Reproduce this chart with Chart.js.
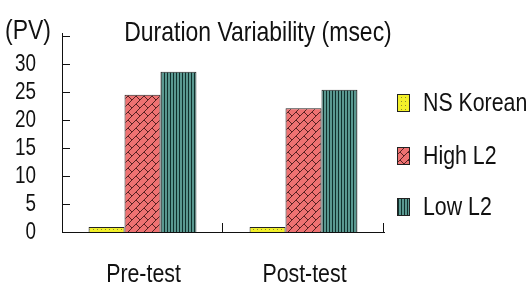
<!DOCTYPE html>
<html>
<head>
<meta charset="utf-8">
<script src="https://cdn.jsdelivr.net/npm/chart.js@4.4.1/dist/chart.umd.min.js"></script>
<style>
  html, body { margin: 0; padding: 0; background: #fff; }
  #wrap { width: 532px; height: 287px; position: relative; }
</style>
</head>
<body>
<div id="wrap"><canvas id="c" width="532" height="287"></canvas></div>
<script>
const categories = ['Pre-test', 'Post-test'];
const seriesNames = ['NS Korean', 'High L2', 'Low L2'];
const nsKorean = [0.9, 0.9];
const highL2 = [24.5, 22.1];
const lowL2 = [28.6, 25.4];
const yTicks = [0, 5, 10, 15, 20, 25, 30, 35];
const yTickLabels = ['0', '5', '10', '15', '20', '25', '30', ''];
const titleText = 'Duration Variability (msec)';
const yUnitText = '(PV)';

const FONT = "'Liberation Sans', Arial, sans-serif";
const NARROW = 0.82;

function narrowText(ctx, text, x, y, size, align) {
  ctx.save();
  ctx.translate(x, y);
  ctx.scale(NARROW, 1);
  ctx.font = size + 'px ' + FONT;
  ctx.textAlign = align;
  ctx.textBaseline = 'middle';
  ctx.fillStyle = '#111';
  ctx.fillText(text, 0, 0);
  ctx.restore();
}

function makePattern(kind) {
  const c = document.createElement('canvas');
  const ctx = c.getContext('2d');
  if (kind === 'yellow') {
    c.width = 4; c.height = 4;
    ctx.fillStyle = '#f2f02a'; ctx.fillRect(0, 0, 4, 4);
    ctx.fillStyle = '#8a8a30'; ctx.fillRect(1, 1, 1, 1);
  } else if (kind === 'red') {
    c.width = 8; c.height = 8;
    ctx.fillStyle = '#ee7272'; ctx.fillRect(0, 0, 8, 8);
    ctx.strokeStyle = 'rgba(60,20,20,0.85)'; ctx.lineWidth = 1;
    ctx.beginPath();
    ctx.moveTo(0, 8); ctx.lineTo(8, 0);
    ctx.moveTo(-4, 4); ctx.lineTo(4, -4);
    ctx.moveTo(4, 12); ctx.lineTo(12, 4);
    ctx.moveTo(0, 0); ctx.lineTo(4, 4);
    ctx.moveTo(4, 8); ctx.lineTo(8, 12);
    ctx.stroke();
  } else {
    c.width = 3; c.height = 3;
    ctx.fillStyle = '#5a9890'; ctx.fillRect(0, 0, 3, 3);
    ctx.fillStyle = '#10302c'; ctx.fillRect(2, 0, 1, 3);
  }
  return ctx.createPattern(c, 'repeat');
}

const fills = [makePattern('yellow'), makePattern('red'), makePattern('teal')];
const seriesValues = [nsKorean, highL2, lowL2];

const decor = {
  id: 'decor',
  afterDraw(chart) {
    const ctx = chart.ctx;
    const xs = chart.scales.x, ys = chart.scales.y;
    const area = chart.chartArea;
    ctx.save();
    ctx.strokeStyle = '#111';
    ctx.lineWidth = 1;
    ctx.beginPath();
    yTicks.forEach(v => {
      const y = Math.round(ys.getPixelForValue(v)) + 0.5;
      ctx.moveTo(area.left, y); ctx.lineTo(area.left + 8, y);
    });
    // axis extends slightly above the top tick
    ctx.moveTo(area.left + 0.5, area.top); ctx.lineTo(area.left + 0.5, area.top - 3);
    for (let i = 0; i < categories.length; i++) {
      let x;
      if (i < categories.length - 1) {
        x = (xs.getPixelForValue(i) + xs.getPixelForValue(i + 1)) / 2;
      } else {
        x = area.right;
      }
      x = Math.round(x) - 0.5;
      ctx.moveTo(x, area.bottom); ctx.lineTo(x, area.bottom - 9);
    }
    ctx.stroke();
    ctx.restore();

    yTicks.forEach((v, i) => {
      if (yTickLabels[i]) narrowText(ctx, yTickLabels[i], 36, ys.getPixelForValue(v) + 1, 23, 'right');
    });
    categories.forEach((c, i) => {
      narrowText(ctx, c, xs.getPixelForValue(i) + 1, 275, 26, 'center');
    });
    narrowText(ctx, titleText, 258, 33, 28, 'center');
    narrowText(ctx, yUnitText, 5, 31, 28, 'left');
    const ly = [103, 156, 207];
    seriesNames.forEach((name, i) => {
      ctx.save();
      ctx.fillStyle = fills[i];
      ctx.fillRect(397, ly[i] - 9, 13, 18);
      ctx.strokeStyle = '#222';
      ctx.lineWidth = 1;
      ctx.strokeRect(397.5, ly[i] - 8.5, 12, 17);
      ctx.restore();
      narrowText(ctx, name, 423, ly[i] + 1, 26, 'left');
    });
  }
};

new Chart(document.getElementById('c'), {
  type: 'bar',
  data: {
    labels: categories,
    datasets: seriesNames.map((n, i) => ({
      label: n,
      data: seriesValues[i],
      backgroundColor: fills[i],
      borderColor: '#222',
      borderWidth: 1,
      categoryPercentage: 0.67,
      barPercentage: 1.0
    }))
  },
  options: {
    responsive: false,
    animation: false,
    events: [],
    layout: { padding: { left: 0, right: 148, top: 36, bottom: 0 } },
    plugins: { legend: { display: false }, title: { display: false }, tooltip: { enabled: false } },
    scales: {
      x: {
        grid: { display: false, drawTicks: false },
        border: { display: true, color: '#111', width: 1 },
        ticks: { display: false },
        afterFit(s) { s.height = 55; }
      },
      y: {
        min: 0, max: 35,
        afterBuildTicks(s) { s.ticks = yTicks.map(v => ({ value: v })); },
        grid: { display: false, drawTicks: false },
        border: { display: true, color: '#111', width: 1 },
        ticks: { display: false },
        afterFit(s) { s.width = 62; }
      }
    }
  },
  plugins: [decor]
});
</script>
</body>
</html>
